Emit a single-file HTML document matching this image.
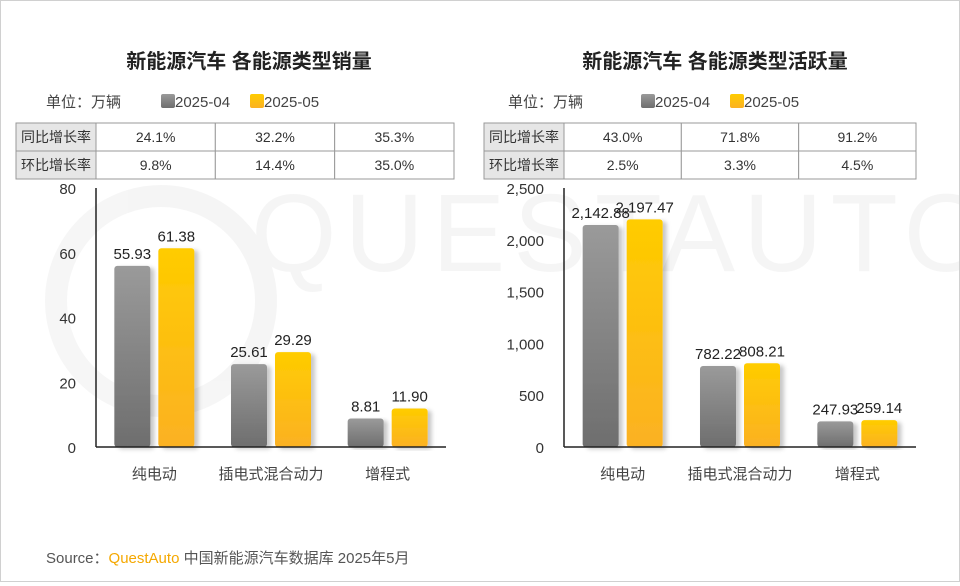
<!DOCTYPE html>
<html><head><meta charset="utf-8"><style>
body{margin:0;width:960px;height:582px;background:#fff;font-family:"Liberation Sans","Noto Sans CJK SC",sans-serif;overflow:hidden}
#wrap{position:relative;width:958px;height:580px;border:1px solid #d0d0d0}
</style></head><body>
<div id="wrap">
<svg id="svg" width="958" height="580" xmlns="http://www.w3.org/2000/svg">
<defs>
<linearGradient id="gg" x1="0" y1="0" x2="0" y2="1"><stop offset="0" stop-color="#9a9a9a"/><stop offset="1" stop-color="#6e6e6e"/></linearGradient>
<linearGradient id="gy" x1="0" y1="0" x2="0" y2="1"><stop offset="0" stop-color="#ffcc00"/><stop offset="1" stop-color="#fbb123"/></linearGradient>
<filter id="sh" x="-20%" y="-5%" width="150%" height="115%"><feDropShadow dx="4" dy="2" stdDeviation="2" flood-color="#000" flood-opacity="0.22"/></filter>
</defs>
<g opacity="0.035">
<circle cx="160" cy="300" r="105" fill="none" stroke="#000" stroke-width="22"/>
<text x="250" y="270" font-size="110" fill="#000" letter-spacing="8">QUESTAUTO</text>
</g>
<g id="charts"></g>
<text x="45" y="562" font-size="15" fill="#555">Source：<tspan fill="#f5a800">QuestAuto</tspan> 中国新能源汽车数据库 2025年5月</text>
</svg>
</div>
<script>
const categories=["纯电动","插电式混合动力","增程式"];
const seriesNames=["2025-04","2025-05"];
const salesApr=[55.93,25.61,8.81];
const salesMay=[61.38,29.29,11.90];
const salesTicks=[0,20,40,60,80];
const salesYoy=["24.1%","32.2%","35.3%"];
const salesMom=["9.8%","14.4%","35.0%"];
const activeApr=[2142.88,782.22,247.93];
const activeMay=[2197.47,808.21,259.14];
const activeTicks=[0,500,1000,1500,2000,2500];
const activeYoy=["43.0%","71.8%","91.2%"];
const activeMom=["2.5%","3.3%","4.5%"];

const NS="http://www.w3.org/2000/svg";
const root=document.getElementById('charts');
function mk(tag,attrs,parent,txt){const e=document.createElementNS(NS,tag);for(const k in attrs)e.setAttribute(k,attrs[k]);if(txt!==undefined)e.textContent=txt;(parent||root).appendChild(e);return e;}
function fmt(v,dec){return v.toLocaleString('en-US',{minimumFractionDigits:dec,maximumFractionDigits:dec});}

function chart(o){
  const g=mk('g',{});
  
  
  const t=mk('text',{x:o.cx,y:67,'font-size':20,'font-weight':'bold','text-anchor':'middle',fill:'#222'},g,o.title);
  
  
  const u=mk('text',{x:o.ux,y:106,'font-size':15,fill:'#444'},g,'单位：万辆');
  
  
  seriesNames.forEach((s,i)=>{
    const lx=o.lx+i*89;
    const r=mk('rect',{x:lx,y:93,width:14,height:14,rx:2,fill:i?'url(#gy)':'url(#gg)'},g);
    
    
    const lt=mk('text',{x:lx+14,y:106,'font-size':15,fill:'#444'},g,s);
    
    
  });
  const tx=o.x0-80, cw=(o.tend-o.x0)/3;
  [[ '同比增长率',o.yoy],['环比增长率',o.mom]].forEach((row,ri)=>{
    const y=122+ri*28;
    const hc=mk('rect',{x:tx,y:y,width:80,height:28,fill:'#e6e6e6',stroke:'#999'},g);
    
    
    const ht=mk('text',{x:tx+40,y:y+19,'font-size':14,'text-anchor':'middle',fill:'#333'},g,row[0]);
    
    
    row[1].forEach((v,ci)=>{
      const c=mk('rect',{x:o.x0+ci*cw,y:y,width:cw,height:28,fill:'#fff',stroke:'#999'},g);
      
      
      const ct=mk('text',{x:o.x0+ci*cw+cw/2,y:y+19,'font-size':14,'text-anchor':'middle',fill:'#333'},g,v);
      
      
    });
  });
  const yb=446, yt=187, max=o.ticks[o.ticks.length-1];
  const Y=v=>yb-(v/max)*(yb-yt);
  const band=(o.x1-o.x0)/3;
  const X=i=>o.x0+band*i+band/2;
  o.ticks.forEach(tv=>{
    const tk=mk('text',{x:o.x0-20,y:Y(tv)+6,'font-size':15,'text-anchor':'end',fill:'#333'},g,fmt(tv,0));
    
    
  });
  const ya=mk('line',{x1:o.x0,y1:yt,x2:o.x0,y2:yb,stroke:'#222','stroke-width':1.5},g);
  
  
  [o.a,o.b].forEach((arr,si)=>{
    arr.forEach((v,i)=>{
      const bx=X(i)+(si?4:-40), w=36;
      const r=mk('rect',{x:bx,y:Y(v),width:w,height:yb-Y(v),rx:3,fill:si?'url(#gy)':'url(#gg)',filter:'url(#sh)'},g);
      
      
      const lt=mk('text',{x:bx+w/2,y:Y(v)-7,'font-size':15,'text-anchor':'middle',fill:'#222'},g,fmt(v,2));
      
      
    });
  });
  const xa=mk('line',{x1:o.x0,y1:yb,x2:o.x1,y2:yb,stroke:'#222','stroke-width':1.5},g);
  
  
  categories.forEach((c,i)=>{
    const ct=mk('text',{x:X(i),y:478,'font-size':15,'text-anchor':'middle',fill:'#444'},g,c);
    
    
  });
}
chart({name:'sales-chart',title:'新能源汽车 各能源类型销量',cx:248,x0:95,x1:445,tend:453,ux:45,lx:160,a:salesApr,b:salesMay,ticks:salesTicks,yoy:salesYoy,mom:salesMom});
chart({name:'active-chart',title:'新能源汽车 各能源类型活跃量',cx:714,x0:563,x1:915,tend:915,ux:507,lx:640,a:activeApr,b:activeMay,ticks:activeTicks,yoy:activeYoy,mom:activeMom});
</script>
</body></html>
